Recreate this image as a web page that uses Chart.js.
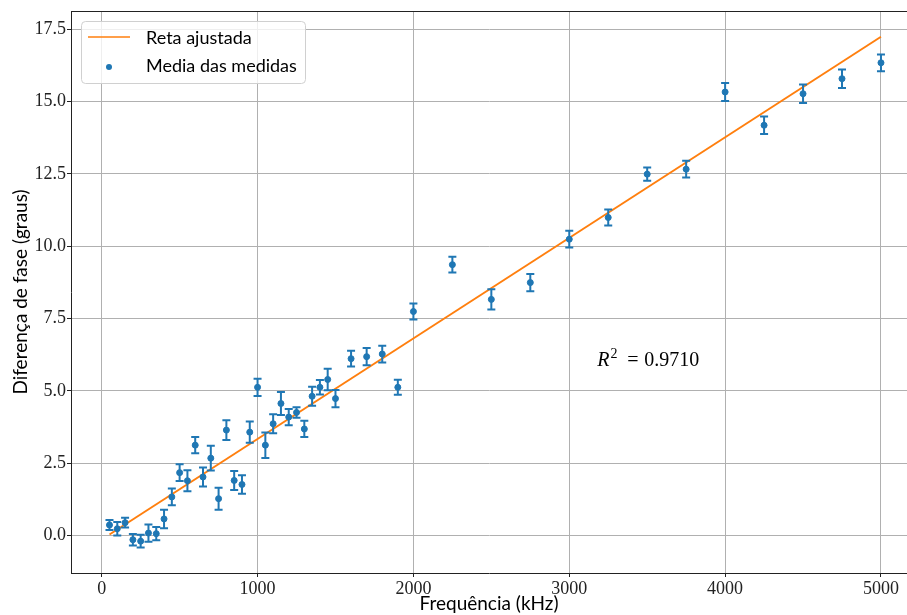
<!DOCTYPE html>
<html>
<head>
<meta charset="utf-8">
<script src="https://cdn.jsdelivr.net/npm/chart.js@4.4.0/dist/chart.umd.min.js"></script>
<style>
    html, body { margin: 0; padding: 0; background: #ffffff; }
    #wrap { width: 907px; height: 615px; }
</style>
</head>
<body>
<div id="wrap"><canvas id="faseChart" width="907" height="615"></canvas></div>
<script>
(function () {

    'use strict';

    // dados
    var frequencias = [50, 100, 150, 200, 250, 300, 350, 400, 450,
        500, 550, 600, 650, 700, 750, 800, 850, 900, 950, 1000,
        1050, 1100, 1150, 1200, 1250, 1300, 1350, 1400, 1450, 1500,
        1600, 1700, 1800, 1900, 2000,
        2250, 2500, 2750, 3000, 3250, 3500, 3750, 4000, 4250, 4500, 4750, 5000];
    var medias = [0.36, 0.23, 0.44, -0.15, -0.20, 0.08, 0.06, 0.57, 1.33,
        2.17, 1.89, 3.12, 2.02, 2.67, 1.27, 3.64, 1.90, 1.76, 3.57, 5.12,
        3.12, 3.86, 4.56, 4.09, 4.25, 3.68, 4.81, 5.12, 5.39, 4.73,
        6.11, 6.18, 6.27, 5.12, 7.74,
        9.36, 8.16, 8.74, 10.24, 10.99, 12.49, 12.66, 15.33, 14.18, 15.27, 15.79, 16.34];
    var erros = [0.17, 0.23, 0.17, 0.20, 0.22, 0.30, 0.23, 0.32, 0.29,
        0.29, 0.36, 0.28, 0.33, 0.43, 0.38, 0.34, 0.33, 0.32, 0.37, 0.30,
        0.44, 0.33, 0.40, 0.28, 0.18, 0.28, 0.33, 0.25, 0.37, 0.30,
        0.27, 0.30, 0.29, 0.26, 0.28,
        0.27, 0.35, 0.30, 0.29, 0.28, 0.23, 0.29, 0.31, 0.30, 0.32, 0.32, 0.29];
    var retaX = [50, 5000];
    var retaY = [0.03, 17.24];
    var xTicks = [0, 1000, 2000, 3000, 4000, 5000];
    var yTicks = [0, 2.5, 5, 7.5, 10, 12.5, 15, 17.5];
    var rotulos = ['Reta ajustada', 'Media das medidas'];
    var r2Texto = '0.9710';

    var azul = '#1f77b4';
    var laranja = '#ff7f0e';
    var serif = '"Liberation Serif", "DejaVu Serif", serif';
    var sans = '"Lato", "Liberation Sans", sans-serif';

    var pontos = frequencias.map(function (f, i) { return { x: f, y: medias[i] }; });
    var reta = retaX.map(function (f, i) { return { x: f, y: retaY[i] }; });

    var errorBars = {
        id: 'errorBars',
        beforeDatasetDraw: function (chart, args) {
            if (args.index !== 1) return;
            var ctx = chart.ctx;
            var xs = chart.scales.x, ys = chart.scales.y;
            ctx.save();
            ctx.strokeStyle = azul;
            ctx.lineWidth = 2;
            for (var i = 0; i < frequencias.length; i++) {
                var px = xs.getPixelForValue(frequencias[i]);
                var y1 = ys.getPixelForValue(medias[i] - erros[i]);
                var y2 = ys.getPixelForValue(medias[i] + erros[i]);
                ctx.beginPath();
                ctx.moveTo(px, y1); ctx.lineTo(px, y2);
                ctx.moveTo(px - 4, y1); ctx.lineTo(px + 4, y1);
                ctx.moveTo(px - 4, y2); ctx.lineTo(px + 4, y2);
                ctx.stroke();
            }
            ctx.restore();
        }
    };

    var extras = {
        id: 'extras',
        afterDraw: function (chart) {
            var ctx = chart.ctx;
            var a = chart.chartArea;
            ctx.save();
            // spine de cima
            ctx.strokeStyle = '#222';
            ctx.lineWidth = 1;
            ctx.beginPath();
            ctx.moveTo(a.left, a.top + 0.5);
            ctx.lineTo(a.right, a.top + 0.5);
            ctx.stroke();

            // legenda
            var lx = a.left + 10, ly = a.top + 10, lw = 224, lh = 62;
            ctx.beginPath();
            ctx.roundRect(lx + 0.5, ly + 0.5, lw, lh, 4);
            ctx.fillStyle = 'rgba(255,255,255,0.8)';
            ctx.fill();
            ctx.strokeStyle = '#d0d0d0';
            ctx.stroke();

            ctx.strokeStyle = laranja;
            ctx.lineWidth = 1.5;
            ctx.beginPath();
            ctx.moveTo(lx + 7, ly + 16);
            ctx.lineTo(lx + 49, ly + 16);
            ctx.stroke();

            ctx.fillStyle = azul;
            ctx.beginPath();
            ctx.arc(lx + 28, ly + 46, 3, 0, Math.PI * 2);
            ctx.fill();

            ctx.fillStyle = '#000';
            ctx.font = '18px ' + sans;
            ctx.textBaseline = 'alphabetic';
            ctx.textAlign = 'left';
            ctx.fillText(rotulos[0], lx + 65, ly + 23);
            ctx.fillText(rotulos[1], lx + 65, ly + 51);

            // R^2
            var tx = chart.scales.x.getPixelForValue(3180);
            var ty = chart.scales.y.getPixelForValue(5.87);
            ctx.font = 'italic 20px ' + serif;
            ctx.fillText('R', tx, ty);
            var w = ctx.measureText('R').width;
            ctx.font = '14px ' + serif;
            ctx.fillText('2', tx + w + 1, ty - 8);
            ctx.font = '20px ' + serif;
            ctx.fillText('=', tx + 30, ty);
            ctx.fillText(r2Texto, tx + 47, ty);
            ctx.restore();
        }
    };

    var ctx = document.getElementById('faseChart').getContext('2d');
    var faseChart = new Chart(ctx, {
        type: 'scatter',
        data: {
            datasets: [{
                label: rotulos[0],
                type: 'line',
                data: reta,
                borderColor: laranja,
                borderWidth: 2,
                pointRadius: 0,
                fill: false,
                order: 2
            }, {
                label: rotulos[1],
                data: pontos,
                backgroundColor: azul,
                borderColor: azul,
                pointRadius: 3,
                order: 1
            }]
        },
        options: {
            responsive: false,
            animation: false,
            layout: { autoPadding: false, padding: { top: 11, right: 0, left: 0, bottom: 0 } },
            plugins: {
                legend: { display: false },
                tooltip: { enabled: false }
            },
            scales: {
                x: {
                    type: 'linear',
                    min: -197,
                    max: 5167,
                    afterBuildTicks: function (scale) {
                        scale.ticks = xTicks.map(function (v) { return { value: v }; });
                    },
                    afterFit: function (scale) {
                        scale.height = 42;
                        scale.paddingLeft = 0;
                        scale.paddingRight = 0;
                    },
                    grid: { color: '#b0b0b0', lineWidth: 1, tickLength: 4, tickColor: '#222' },
                    border: { color: '#222', width: 1 },
                    ticks: {
                        color: '#222',
                        padding: 1,
                        font: { family: serif, size: 18 },
                        maxRotation: 0,
                        callback: function (v) { return String(v); }
                    },
                    title: {
                        display: true,
                        text: 'Frequência (kHz)',
                        color: '#000',
                        font: { family: sans, size: 19 },
                        padding: { top: 0, bottom: 0 }
                    }
                },
                y: {
                    type: 'linear',
                    min: -1.3,
                    max: 18.13,
                    afterBuildTicks: function (scale) {
                        scale.ticks = yTicks.map(function (v) { return { value: v }; });
                    },
                    afterFit: function (scale) {
                        scale.width = 71;
                        scale.paddingTop = 0;
                        scale.paddingBottom = 0;
                    },
                    grid: { color: '#b0b0b0', lineWidth: 1, tickLength: 4, tickColor: '#222' },
                    border: { color: '#222', width: 1 },
                    ticks: {
                        color: '#222',
                        padding: 1,
                        font: { family: serif, size: 18 },
                        callback: function (v) { return v.toFixed(1); }
                    },
                    title: {
                        display: true,
                        text: 'Diferença de fase (graus)',
                        color: '#000',
                        font: { family: sans, size: 19 },
                        padding: { top: 9, bottom: 0 }
                    }
                }
            }
        },
        plugins: [errorBars, extras]
    });

})();
</script>
</body>
</html>
